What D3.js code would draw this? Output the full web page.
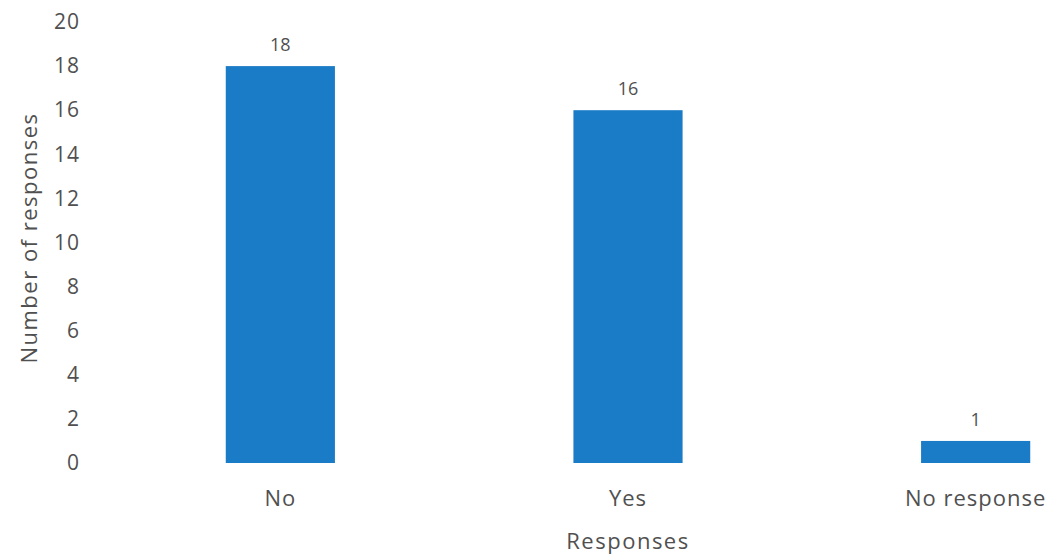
<!DOCTYPE html>
<html>
<head>
<meta charset="utf-8">
<script src="https://cdn.jsdelivr.net/npm/d3@7"></script>
<style>
  body { margin: 0; background: #fff; }
  text { font-family: "Open Sans", "Noto Sans", sans-serif; fill: #505050; }
</style>
</head>
<body>
<div id="chart"></div>
<script>
// data
var categories = ["No", "Yes", "No response"];
var counts = [18, 16, 1];
var yTicks = [0, 2, 4, 6, 8, 10, 12, 14, 16, 18, 20];

var width = 1052, height = 557;

var svg = d3.select("#chart")
  .append("svg")
    .attr("width", width)
    .attr("height", height);

// scales
var x = d3.scaleBand()
    .domain(categories)
    .range([191, 1065])
    .paddingInner(0.686)
    .paddingOuter(0.1);

var y = d3.scaleLinear()
    .domain([0, 20])
    .range([463, 22]);

// y axis, labels only
var yAxis = svg.append("g")
    .attr("transform", "translate(80,0)")
    .call(d3.axisLeft(y).tickValues(yTicks).tickSize(0).tickPadding(0));
yAxis.select(".domain").remove();
yAxis.selectAll("text")
    .style("font-size", "21px")
    .style("font-family", "'Open Sans', sans-serif")
    .style("letter-spacing", "1px")
    .attr("fill", "#505050");

// x axis labels
var xAxis = svg.append("g")
    .attr("transform", "translate(0,480)")
    .call(d3.axisBottom(x).tickSize(0).tickPadding(10));
xAxis.select(".domain").remove();
xAxis.selectAll("text")
    .style("font-size", "22px")
    .style("font-family", "'Open Sans', sans-serif")
    .style("letter-spacing", "1px")
    .attr("fill", "#505050");

// bars
svg.append("g")
  .selectAll("rect")
  .data(counts)
  .enter()
  .append("rect")
    .attr("x", function(d, i) { return x(categories[i]); })
    .attr("y", function(d) { return y(d); })
    .attr("width", x.bandwidth())
    .attr("height", function(d) { return y(0) - y(d); })
    .attr("fill", "#1a7cc6");

// value labels
svg.append("g")
  .selectAll("text")
  .data(counts)
  .enter()
  .append("text")
    .attr("x", function(d, i) { return x(categories[i]) + x.bandwidth() / 2; })
    .attr("y", function(d) { return y(d) - 15; })
    .attr("text-anchor", "middle")
    .style("font-size", "18px")
    .text(function(d) { return d; });

// axis titles
svg.append("text")
    .attr("x", (x("Yes") + x.bandwidth() / 2))
    .attr("y", 549)
    .attr("text-anchor", "middle")
    .style("font-size", "22px")
    .style("letter-spacing", "1.5px")
    .text("Responses");

svg.append("text")
    .attr("transform", "translate(37,238) rotate(-90)")
    .attr("text-anchor", "middle")
    .style("font-size", "22px")
    .style("letter-spacing", "1.5px")
    .text("Number of responses");
</script>
</body>
</html>
